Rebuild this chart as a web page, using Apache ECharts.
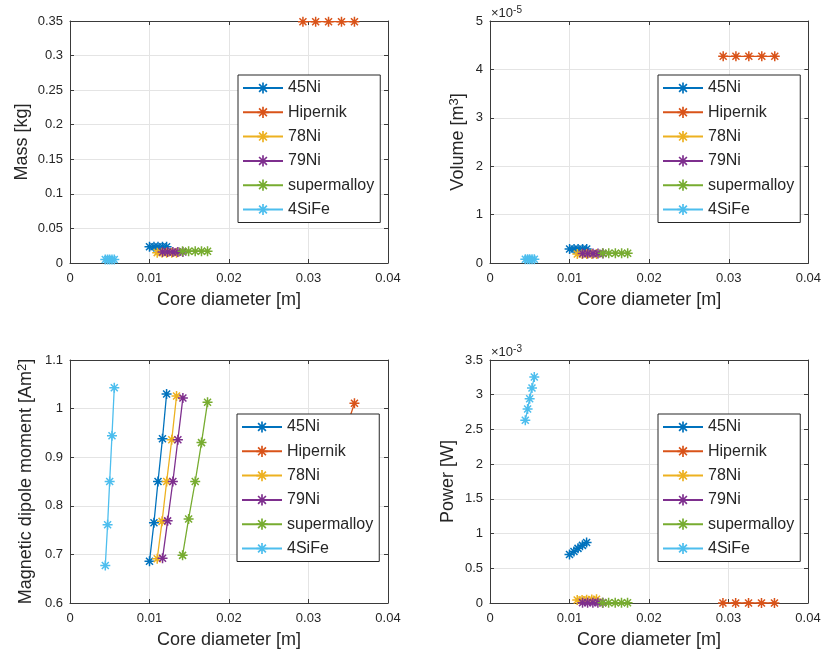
<!DOCTYPE html>
<html>
<head>
<meta charset="utf-8">
<script src="https://cdn.jsdelivr.net/npm/echarts@6/dist/echarts.min.js"></script>
<style>html,body{margin:0;padding:0;background:#fff}#c{width:824px;height:660px}</style>
</head>
<body>
<div id="c"></div>
<script>
// ---- data ----
const materials = ['45Ni', 'Hipernik', '78Ni', '79Ni', 'supermalloy', '4SiFe'];
const colors = ['#0072BD', '#D95319', '#EDB120', '#7E2F8E', '#77AC30', '#4DBEEE'];

// core diameter [m]
const diam45Ni = [0.01000, 0.01056, 0.01107, 0.01163, 0.01215];
const diamHipernik = [0.02930, 0.03090, 0.03252, 0.03415, 0.03578];
const diam78Ni = [0.01097, 0.01158, 0.01216, 0.01280, 0.01340];
const diam79Ni = [0.01164, 0.01228, 0.01294, 0.01357, 0.01420];
const diamSupermalloy = [0.01416, 0.01492, 0.01575, 0.01654, 0.01730];
const diam4SiFe = [0.00444, 0.00473, 0.00499, 0.00528, 0.00557];

// mass [kg]
const mass45Ni = [0.0235, 0.0235, 0.0235, 0.0235, 0.0235];
const massHipernik = [0.349, 0.349, 0.349, 0.349, 0.349];
const mass78Ni = [0.0150, 0.0150, 0.0150, 0.0150, 0.0150];
const mass79Ni = [0.0160, 0.0160, 0.0160, 0.0160, 0.0160];
const massSupermalloy = [0.0170, 0.0170, 0.0170, 0.0170, 0.0170];
const mass4SiFe = [0.0050, 0.0050, 0.0050, 0.0050, 0.0050];

// volume [x1e-5 m^3]
const vol45Ni = [0.289, 0.289, 0.289, 0.289, 0.289];
const volHipernik = [4.27, 4.27, 4.27, 4.27, 4.27];
const vol78Ni = [0.186, 0.186, 0.186, 0.186, 0.186];
const vol79Ni = [0.198, 0.198, 0.198, 0.198, 0.198];
const volSupermalloy = [0.200, 0.200, 0.200, 0.200, 0.200];
const vol4SiFe = [0.076, 0.076, 0.076, 0.076, 0.076];

// magnetic dipole moment [Am^2]
const mom45Ni = [0.686, 0.765, 0.850, 0.938, 1.030];
const momHipernik = [0.698, 0.773, 0.850, 0.930, 1.011];
const mom78Ni = [0.691, 0.768, 0.850, 0.936, 1.026];
const mom79Ni = [0.692, 0.769, 0.850, 0.936, 1.022];
const momSupermalloy = [0.698, 0.773, 0.850, 0.930, 1.013];
const mom4SiFe = [0.677, 0.761, 0.850, 0.944, 1.043];

// power [x1e-3 W]
const pow45Ni = [0.698, 0.743, 0.787, 0.830, 0.872];
const powHipernik = [0, 0, 0, 0, 0];
const pow78Ni = [0.042, 0.045, 0.048, 0.051, 0.054];
const pow79Ni = [0.005, 0.005, 0.005, 0.005, 0.005];
const powSupermalloy = [0.003, 0.003, 0.003, 0.003, 0.003];
const pow4SiFe = [2.631, 2.794, 2.943, 3.097, 3.255];

// tick labels
const xTicks = [0, 0.01, 0.02, 0.03, 0.04];
const massTicks = [0, 0.05, 0.1, 0.15, 0.2, 0.25, 0.3, 0.35];
const volTicks = [0, 1, 2, 3, 4, 5];
const momTicks = [0.6, 0.7, 0.8, 0.9, 1, 1.1];
const powTicks = [0, 0.5, 1, 1.5, 2, 2.5, 3, 3.5];

// ---- chart ----
const FONT = '"Liberation Sans", Arial, Helvetica, sans-serif';
const TXT = '#262626';
const diams = [diam45Ni, diamHipernik, diam78Ni, diam79Ni, diamSupermalloy, diam4SiFe];
const panels = [
  { ys: [mass45Ni, massHipernik, mass78Ni, mass79Ni, massSupermalloy, mass4SiFe], ticks: massTicks,
    grid: { left: 70, top: 21, width: 318, height: 242 }, name: 'Mass [kg]', nameGap: 39, legend: { left: 238, top: 75 } },
  { ys: [vol45Ni, volHipernik, vol78Ni, vol79Ni, volSupermalloy, vol4SiFe], ticks: volTicks,
    grid: { left: 490, top: 21, width: 319, height: 242 }, name: 'Volume [m{s|3}]', nameGap: 21, legend: { left: 658, top: 75 } },
  { ys: [mom45Ni, momHipernik, mom78Ni, mom79Ni, momSupermalloy, mom4SiFe], ticks: momTicks,
    grid: { left: 70, top: 360, width: 318, height: 243 }, name: 'Magnetic dipole moment [Am{s|2}]', nameGap: 33, legend: { left: 237, top: 414 } },
  { ys: [pow45Ni, powHipernik, pow78Ni, pow79Ni, powSupermalloy, pow4SiFe], ticks: powTicks,
    grid: { left: 490, top: 360, width: 318, height: 243 }, name: 'Power [W]', nameGap: 33, legend: { left: 658, top: 414 } }
];

const STAR = 'path://M0,8.5L20,8.5L20,11.5L0,11.5Z M8.5,0L11.5,0L11.5,20L8.5,20Z M4.06,1.94L18.06,15.94L15.94,18.06L1.94,4.06Z M1.94,15.94L15.94,1.94L18.06,4.06L4.06,18.06Z';

const grids = [], xAxes = [], yAxes = [], series = [], legends = [];
const lineCol = '#3a3a3a';
panels.forEach((p, g) => {
  grids.push(Object.assign({ containLabel: false }, p.grid));
  const yMin = p.ticks[0], yMax = p.ticks[p.ticks.length - 1];
  const yInt = p.ticks[1] - p.ticks[0];
  const common = { gridIndex: g, type: 'value' };
  xAxes.push(Object.assign({}, common, {
    position: 'bottom', min: xTicks[0], max: xTicks[xTicks.length - 1], interval: xTicks[1] - xTicks[0],
    name: 'Core diameter [m]', nameLocation: 'middle', nameGap: 28,
    nameTextStyle: { fontFamily: FONT, fontSize: 18, color: TXT },
    axisLine: { show: true, onZero: false, lineStyle: { color: lineCol, width: 1 } },
    axisTick: { show: true, inside: true, length: 4, lineStyle: { color: lineCol } },
    axisLabel: { show: true, margin: 9, fontFamily: FONT, fontSize: 13, color: TXT,
      formatter: v => String(parseFloat(v.toFixed(4))) },
    splitLine: { show: true, lineStyle: { color: '#e4e4e4', width: 1 } }
  }));
  xAxes.push(Object.assign({}, common, {
    position: 'top', min: xTicks[0], max: xTicks[xTicks.length - 1], interval: xTicks[1] - xTicks[0],
    axisLine: { show: true, onZero: false, lineStyle: { color: lineCol, width: 1 } },
    axisTick: { show: true, inside: true, length: 4, lineStyle: { color: lineCol } },
    axisLabel: { show: false }, splitLine: { show: false }
  }));
  yAxes.push(Object.assign({}, common, {
    position: 'left', min: yMin, max: yMax, interval: yInt,
    name: p.name, nameLocation: 'middle', nameGap: p.nameGap, nameRotate: 90,
    nameTextStyle: { fontFamily: FONT, fontSize: 18, color: TXT,
      rich: { s: { fontFamily: FONT, fontSize: 13, color: TXT, verticalAlign: 'top', padding: [0, 0, 8, 0] } } },
    axisLine: { show: true, onZero: false, lineStyle: { color: lineCol, width: 1 } },
    axisTick: { show: true, inside: true, length: 4, lineStyle: { color: lineCol } },
    axisLabel: { show: true, margin: 7, fontFamily: FONT, fontSize: 13, color: TXT,
      formatter: v => String(parseFloat(v.toFixed(4))) },
    splitLine: { show: true, lineStyle: { color: '#e4e4e4', width: 1 } }
  }));
  yAxes.push(Object.assign({}, common, {
    position: 'right', min: yMin, max: yMax, interval: yInt,
    axisLine: { show: true, onZero: false, lineStyle: { color: lineCol, width: 1 } },
    axisTick: { show: true, inside: true, length: 4, lineStyle: { color: lineCol } },
    axisLabel: { show: false }, splitLine: { show: false }
  }));
  materials.forEach((m, i) => {
    series.push({
      type: 'line', name: m, xAxisIndex: 2 * g, yAxisIndex: 2 * g,
      data: diams[i].map((d, k) => [d, p.ys[i][k]]),
      symbol: STAR, symbolSize: 10, showAllSymbol: true,
      lineStyle: { color: colors[i], width: 1.3 },
      itemStyle: { color: colors[i] },
      emphasis: { disabled: true }, animation: false, clip: false, z: 3
    });
  });
  legends.push({
    orient: 'vertical', left: p.legend.left, top: p.legend.top,
    data: materials, itemWidth: 40, itemHeight: 14, itemGap: 8.3,
    padding: [5, 6, 5, 4],
    backgroundColor: '#ffffff', borderColor: '#262626', borderWidth: 1,
    textStyle: { fontFamily: FONT, fontSize: 16, color: TXT, lineHeight: 14 },
    selectedMode: false, z: 10
  });
});

const chart = echarts.init(document.getElementById('c'), null, { renderer: 'canvas' });
chart.setOption({
  backgroundColor: '#ffffff',
  animation: false,
  color: colors,
  grid: grids, xAxis: xAxes, yAxis: yAxes, series: series, legend: legends,
  graphic: [
    { type: 'text', left: 491, top: 5, style: { text: '×10{s|-5}', fontFamily: FONT, fontSize: 13, fill: TXT,
      rich: { s: { fontFamily: FONT, fontSize: 10, fill: TXT, verticalAlign: 'top', padding: [0, 0, 6, 0] } } } },
    { type: 'text', left: 491, top: 344, style: { text: '×10{s|-3}', fontFamily: FONT, fontSize: 13, fill: TXT,
      rich: { s: { fontFamily: FONT, fontSize: 10, fill: TXT, verticalAlign: 'top', padding: [0, 0, 6, 0] } } } }
  ]
});
</script>
</body>
</html>
